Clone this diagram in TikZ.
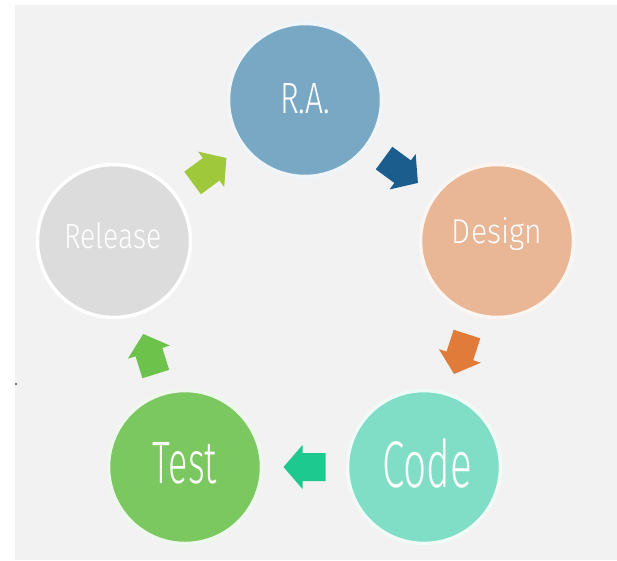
\documentclass[tikz,border=0pt]{standalone}
\usepackage{fontspec}
\setmainfont{Fira Sans Light}
\usetikzlibrary{calc}
\definecolor{bgc}{HTML}{F2F2F2}
\definecolor{rac}{HTML}{78A8C4}
\definecolor{dec}{HTML}{E9B696}
\definecolor{coc}{HTML}{80DEC6}
\definecolor{tec}{HTML}{7CC860}
\definecolor{rec}{HTML}{DCDCDC}
\definecolor{aone}{HTML}{1B5E8E}
\definecolor{atwo}{HTML}{E07B39}
\definecolor{athree}{HTML}{1DC98F}
\definecolor{afour}{HTML}{6CC24A}
\definecolor{afive}{HTML}{9FC83B}
\begin{document}
\begin{tikzpicture}[x=1pt,y=-1pt,
  stage/.style={circle, minimum size=153pt, inner sep=0pt, line width=3.5pt},
  lbl/.style={anchor=base, text=white, inner sep=0pt},
  pics/blockarrow/.style={code={\fill (-21,-14) -- (2,-14) -- (2,-22) -- (21,0) -- (2,22) -- (2,14) -- (-21,14) -- cycle;}}]
\useasboundingbox (0,0) rectangle (617,560);
\fill[white] (0,0) rectangle (617,560);
\fill[bgc] (15,5) rectangle (617,560);
\fill[black!70] (16,384) circle (1.2);
% stages
\node[stage, fill=rac, draw=rac!12!white] (ra) at (305,100) {};
\node[stage, fill=dec, draw=dec!12!white] (design) at (497,241) {};
\node[stage, fill=coc, draw=coc!12!white] (code) at (424,467) {};
\node[stage, fill=tec, draw=tec!12!white] (test) at (185,467) {};
\node[stage, fill=rec, draw=white] (release) at (114,241) {};
% labels
\node[lbl] (ralbl) at ([yshift=-13pt]ra.center) {\resizebox{50pt}{30pt}{R.A.}};
\node[lbl] (delbl) at ([yshift=-2pt]design.center) {\resizebox{90pt}{26pt}{Design}};
\node[lbl] (colbl) at ([xshift=3pt,yshift=-20pt]code.center) {\resizebox{90pt}{49pt}{Code}};
\node[lbl] (telbl) at ([yshift=-16pt]test.center) {\resizebox{64pt}{41pt}{Test}};
\node[lbl] (relbl) at ([xshift=-1pt,yshift=-7pt]release.center) {\resizebox{97pt}{26pt}{Release}};
% arrows
\path let \p1=($(design)-(ra)$), \n1={atan2(\y1,\x1)} in ($(ra)!0.5!(design)$) pic[fill=aone, rotate=\n1] {blockarrow};
\path let \p1=($(code)-(design)$), \n1={atan2(\y1,\x1)} in ($(design)!0.5!(code)$) pic[fill=atwo, rotate=\n1] {blockarrow};
\path let \p1=($(test)-(code)$), \n1={atan2(\y1,\x1)} in ($(code)!0.5!(test)$) pic[fill=athree, rotate=\n1] {blockarrow};
\path let \p1=($(release)-(test)$), \n1={atan2(\y1,\x1)} in ($(test)!0.5!(release)$) pic[fill=afour, rotate=\n1] {blockarrow};
\path let \p1=($(ra)-(release)$), \n1={atan2(\y1,\x1)} in ($(release)!0.5!(ra)$) pic[fill=afive, rotate=\n1] {blockarrow};
\end{tikzpicture}
\end{document}
